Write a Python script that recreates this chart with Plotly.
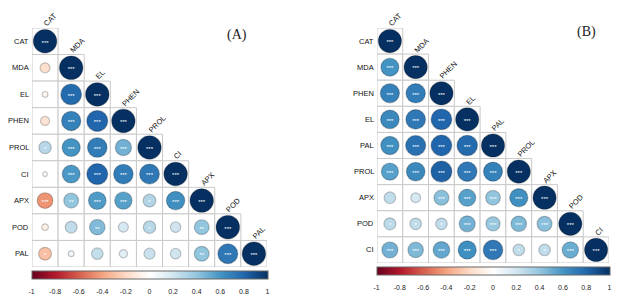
import math
import plotly.graph_objects as go

# ---------------- data ----------------
A_vars = ["CAT", "MDA", "EL", "PHEN", "PROL", "CI", "APX", "POD", "PAL"]
A_corr = [
    [1.00],
    [-0.18, 1.00],
    [-0.06, 0.78, 1.00],
    [-0.15, 0.68, 0.80, 1.00],
    [0.28, 0.60, 0.70, 0.48, 1.00],
    [0.04, 0.58, 0.80, 0.70, 0.72, 1.00],
    [-0.45, 0.40, 0.57, 0.55, 0.30, 0.62, 1.00],
    [-0.08, 0.25, 0.44, 0.18, 0.28, 0.20, 0.40, 1.00],
    [-0.30, 0.06, 0.24, 0.12, 0.22, 0.20, 0.40, 0.72, 1.00],
]
A_sig = [
    ["***"],
    ["", "***"],
    ["", "***", "***"],
    ["", "***", "***", "***"],
    ["*", "***", "***", "***", "***"],
    ["", "***", "***", "***", "***", "***"],
    ["***", "**", "***", "***", "*", "***", "***"],
    ["", "", "**", "", "*", "", "**", "***"],
    ["*", "", "", "", "", "", "**", "***", "***"],
]

B_vars = ["CAT", "MDA", "PHEN", "EL", "PAL", "PROL", "APX", "POD", "CI"]
B_corr = [
    [1.00],
    [0.60, 1.00],
    [0.68, 0.70, 1.00],
    [0.65, 0.72, 0.80, 1.00],
    [0.62, 0.75, 0.80, 0.78, 1.00],
    [0.55, 0.65, 0.82, 0.72, 0.68, 1.00],
    [0.25, 0.18, 0.42, 0.55, 0.40, 0.62, 1.00],
    [0.27, 0.25, 0.25, 0.48, 0.38, 0.45, 0.42, 1.00],
    [0.48, 0.45, 0.52, 0.62, 0.72, 0.25, 0.25, 0.50, 1.00],
]
B_sig = [
    ["***"],
    ["***", "***"],
    ["***", "***", "***"],
    ["***", "***", "***", "***"],
    ["***", "***", "***", "***", "***"],
    ["***", "***", "***", "***", "***", "***"],
    ["", "", "***", "***", "***", "***", "***"],
    ["*", "*", "*", "***", "***", "***", "***", "***"],
    ["***", "***", "***", "***", "***", "*", "*", "***", "***"],
]

cbar_ticks = [-1, -0.8, -0.6, -0.4, -0.2, 0, 0.2, 0.4, 0.6, 0.8, 1]
panel_labels = ["(A)", "(B)"]

# ---------------- style ----------------
W, H = 624, 303
RDBU = ["#67001F", "#B2182B", "#D6604D", "#F4A582", "#FDDBC7", "#FFFFFF",
        "#D1E5F0", "#92C5DE", "#4393C3", "#2166AC", "#053061"]
colorscale = [[i / 10, c] for i, c in enumerate(RDBU)]

# pixel boxes of each panel grid (left, right, top, bottom)
panels = [
    dict(vars=A_vars, corr=A_corr, sig=A_sig, box=(32, 267, 28, 267),
         cb_top=271, label=panel_labels[0], label_xy=(237, 35)),
    dict(vars=B_vars, corr=B_corr, sig=B_sig, box=(377, 609, 28, 263),
         cb_top=267, label=panel_labels[1], label_xy=(586, 32)),
]

fig = go.Figure()
shapes = []
annotations = []
FONT = "Liberation Sans, Arial, sans-serif"

for p_i, p in enumerate(panels):
    suffix = "" if p_i == 0 else "2"
    xa, ya = "x" + suffix, "y" + suffix
    n = len(p["vars"])
    L, R, T, B = p["box"]
    cell = min((R - L) / n, (B - T) / n)

    xs, ys, vals, sizes, txt = [], [], [], [], []
    for i, row in enumerate(p["corr"]):
        for j, v in enumerate(row):
            xs.append(j)
            ys.append(i)
            vals.append(v)
            sizes.append(0.9 * cell * math.sqrt(abs(v)))
            txt.append(p["sig"][i][j])
            shapes.append(dict(type="rect", xref=xa, yref=ya,
                               x0=j - 0.5, x1=j + 0.5, y0=i - 0.5, y1=i + 0.5,
                               line=dict(color="#c9c9c9", width=1),
                               fillcolor="white", layer="below"))

    fig.add_trace(go.Scatter(
        x=xs, y=ys, mode="markers", xaxis=xa, yaxis=ya,
        marker=dict(size=sizes, color=vals, colorscale=colorscale,
                    cmin=-1, cmax=1, opacity=1,
                    line=dict(color="rgba(0,0,0,0.22)", width=1.2),
                    showscale=True,
                    colorbar=dict(orientation="h", x=(L + R) / 2 / W,
                                  xanchor="center", y=1 - p["cb_top"] / H,
                                  yanchor="top", len=R - L + 1, lenmode="pixels",
                                  thickness=8, xpad=0, ypad=0,
                                  outlinewidth=1, outlinecolor="#666",
                                  ticks="outside", ticklen=7,
                                  tickcolor="rgba(0,0,0,0)", tickvals=cbar_ticks,
                                  ticktext=[("%g" % t) for t in cbar_ticks],
                                  tickfont=dict(size=7, family=FONT, color="#222"))),
        hoverinfo="skip", showlegend=False))

    fig.add_trace(go.Scatter(
        x=xs, y=[y + 0.07 for y in ys], mode="text", text=txt,
        xaxis=xa, yaxis=ya, textposition="middle center",
        textfont=dict(size=6, color="white", family=FONT),
        hoverinfo="skip", showlegend=False))

    # row labels
    for i, name in enumerate(p["vars"]):
        annotations.append(dict(x=-0.5, y=i, xref=xa, yref=ya, text=name,
                                showarrow=False, xanchor="right", yanchor="middle",
                                xshift=-1, font=dict(size=7.5, family=FONT, color="#111")))
        # column labels (rotated)
        annotations.append(dict(x=i, y=i - 0.5, xref=xa, yref=ya, text=name,
                                showarrow=False, xanchor="left", yanchor="bottom",
                                textangle=-45, xshift=-6, yshift=-3,
                                font=dict(size=7.5, family=FONT, color="#111")))

    annotations.append(dict(x=p["label_xy"][0] / W, y=1 - p["label_xy"][1] / H,
                            xref="paper", yref="paper", text=p["label"],
                            showarrow=False, xanchor="center", yanchor="middle",
                            font=dict(size=14, family="Liberation Serif, Times New Roman, serif",
                                      color="#222")))

    fig.update_layout(**{
        "xaxis" + suffix: dict(domain=[L / W, R / W], range=[-0.5, n - 0.5],
                               visible=False, fixedrange=True),
        "yaxis" + suffix: dict(domain=[1 - B / H, 1 - T / H], range=[n - 0.5, -0.5],
                               visible=False, fixedrange=True),
    })

fig.update_layout(width=W, height=H,
                  margin=dict(l=0, r=0, t=0, b=0, autoexpand=False),
                  paper_bgcolor="white", plot_bgcolor="white",
                  shapes=shapes, annotations=annotations)

fig.write_html("out.html", config={"displayModeBar": False},
               post_script="document.body.style.margin='0';document.body.style.overflow='hidden';")
